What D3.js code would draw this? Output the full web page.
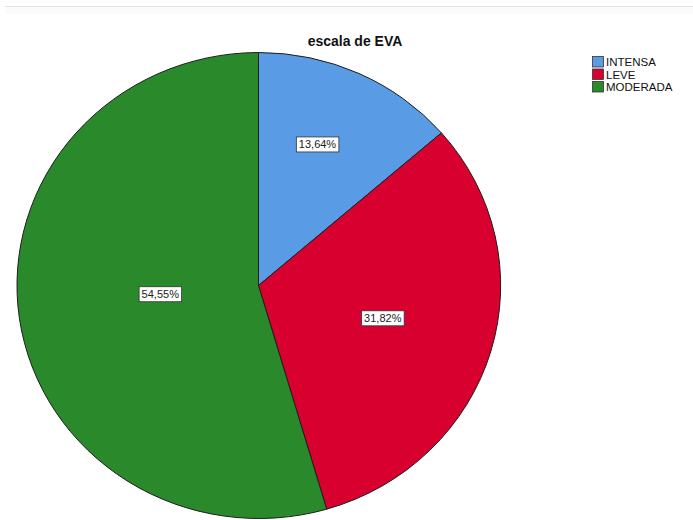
<!DOCTYPE html>
<html>
<head>
<meta charset="utf-8">
<script src="https://cdn.jsdelivr.net/npm/d3@7"></script>
<style>
  html, body { margin: 0; padding: 0; background: #ffffff; }
  svg { display: block; font-family: "Liberation Sans", Arial, sans-serif; }
</style>
</head>
<body>
<svg id="chart" width="693" height="520"></svg>
<script>
// Pain scale (EVA) distribution
const categories = ["INTENSA", "LEVE", "MODERADA"];
const percents = [13.64, 31.82, 54.55];
const colors = ["#5a9be6", "#d8002f", "#2a8a2b"];
const title = "escala de EVA";

const W = 693, H = 520;
const svg = d3.select("#chart");

// faint frame line along the top
svg.append("rect").attr("x", 5).attr("y", 7).attr("width", W - 5).attr("height", 7).attr("fill", "#fbfbfb");
svg.append("line").attr("x1", 5).attr("x2", W).attr("y1", 6.5).attr("y2", 6.5)
  .attr("stroke", "#e4e4e4").attr("stroke-width", 1);

// pie is drawn on a unit circle, then stretched slightly wider than tall
const cx = 258.5, cy = 285.5, rx = 242, ry = 233;
const data = categories.map((c, i) => ({ cat: c, value: percents[i], color: colors[i] }));

const pie = d3.pie().value(d => d.value).sort(null);
const arcs = pie(data);
const arc = d3.arc().innerRadius(0).outerRadius(1);

const g = svg.append("g").attr("transform", `translate(${cx},${cy}) scale(${rx},${ry})`);
g.selectAll("path").data(arcs).join("path")
  .attr("d", arc)
  .attr("fill", d => d.data.color)
  .attr("stroke", "#1e1e1e")
  .attr("stroke-width", 1)
  .attr("vector-effect", "non-scaling-stroke");

// value labels near the area centroid of each slice
const fmt = v => v.toFixed(2).replace(".", ",") + "%";
const labels = svg.append("g");
arcs.forEach(a => {
  const theta = a.endAngle - a.startAngle;
  const mid = (a.startAngle + a.endAngle) / 2;
  const rr = 4 * Math.sin(theta / 2) / (3 * theta);
  const x = cx + rx * rr * Math.sin(mid) - 6;
  const y = cy - ry * rr * Math.cos(mid) - 4;
  const lg = labels.append("g").attr("transform", `translate(${x},${y})`);
  const t = lg.append("text")
    .attr("text-anchor", "middle")
    .attr("dy", "0.36em")
    .attr("font-size", 11)
    .attr("fill", "#222")
    .text(fmt(a.data.value));
  const bb = t.node().getBBox();
  lg.insert("rect", "text")
    .attr("x", bb.x - 2.5).attr("y", bb.y - 1.5)
    .attr("width", bb.width + 5).attr("height", bb.height + 3)
    .attr("fill", "#ffffff").attr("stroke", "#333").attr("stroke-width", 0.8);
});

// title
svg.append("text")
  .attr("x", 355).attr("y", 46)
  .attr("text-anchor", "middle")
  .attr("font-size", 14).attr("font-weight", "bold").attr("fill", "#111")
  .text(title);

// legend
const legend = svg.append("g").attr("transform", "translate(592,56)");
const rowH = 12.5;
const items = legend.selectAll("g").data(data).join("g")
  .attr("transform", (d, i) => `translate(0,${i * rowH})`);
items.append("rect")
  .attr("x", 0.5).attr("y", 0.5).attr("width", 11).attr("height", 10.5)
  .attr("fill", d => d.color).attr("stroke", "#333").attr("stroke-width", 0.8);
items.append("text")
  .attr("x", 14).attr("y", 10)
  .attr("font-size", 11.5).attr("fill", "#111")
  .text(d => d.cat);
</script>
</body>
</html>
